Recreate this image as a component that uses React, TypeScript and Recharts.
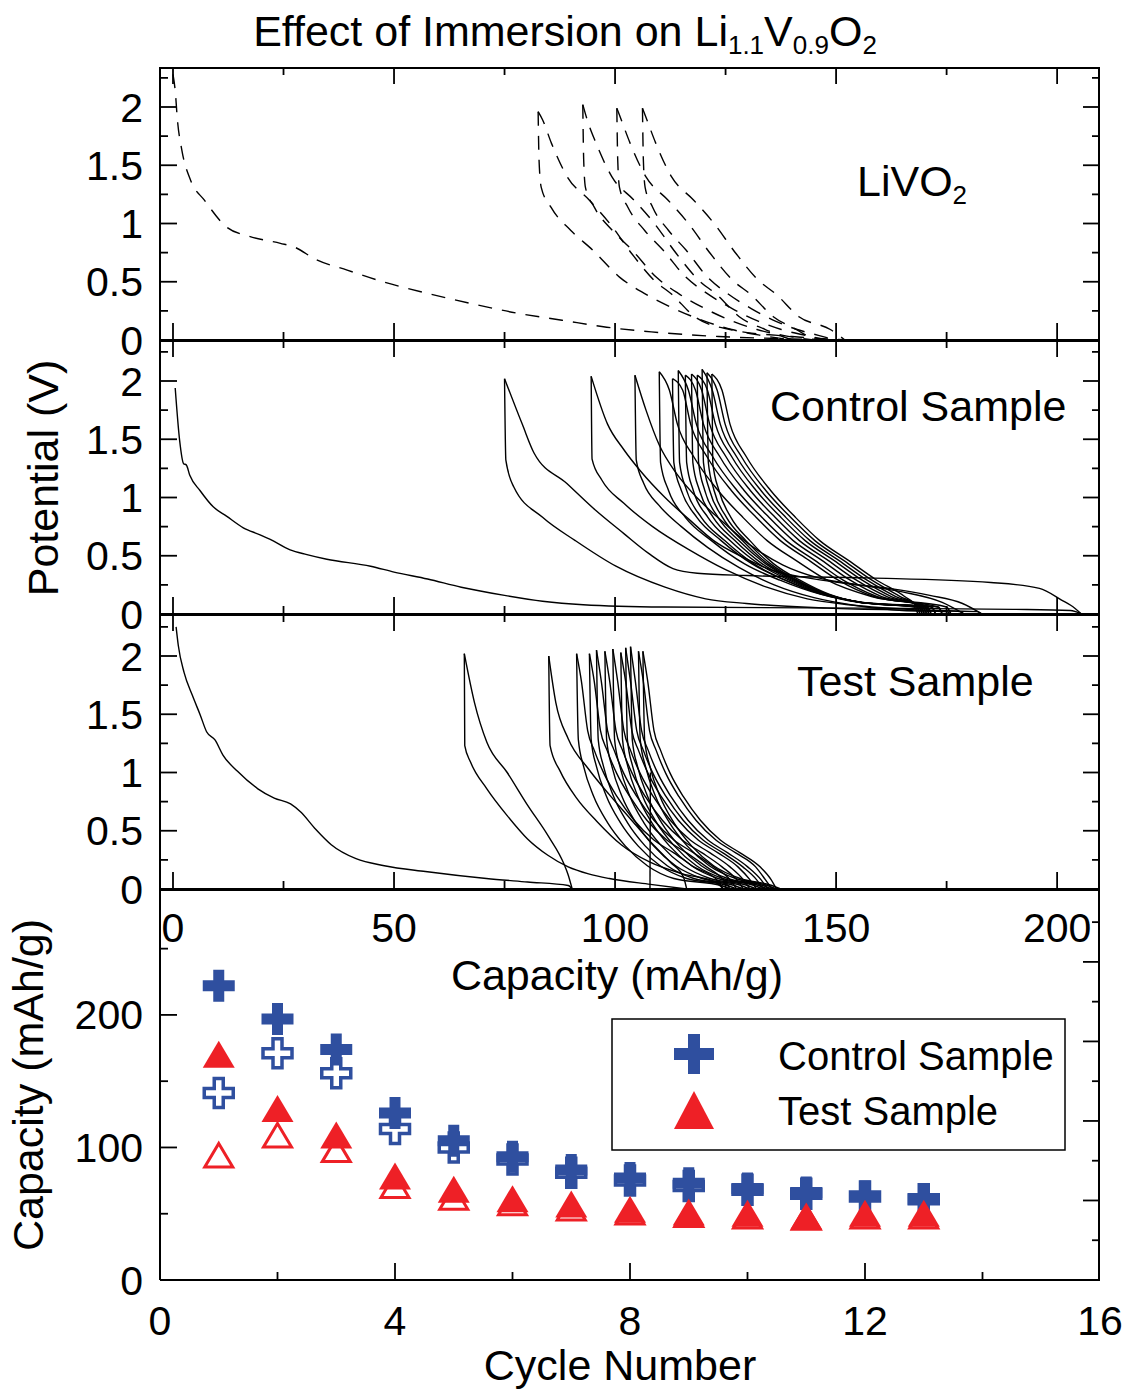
import React from 'react';
import { ComposedChart, Line, XAxis, YAxis, Scatter } from 'recharts';

const FONT = '"Liberation Sans", Arial, Helvetica, sans-serif';
const BLUE = '#2f4f9f';
const RED = '#ee2026';

// shared capacity axis of the three potential panels
const capDomain = [-2.94, 209.7];
const capLabels = [0, 50, 100, 150, 200];
const capMajor = [0, 50, 100, 150, 200];
const capMinor = [25, 75, 125, 175];
const potLabels = [0, 0.5, 1, 1.5, 2];
const potMajor = [0.5, 1, 1.5, 2];
const potMinor = [0.25, 0.75, 1.25, 1.75, 2.25];

// cycling panel axes
const cycleDomain = [0, 16];
const cycleLabels = [0, 4, 8, 12, 16];
const cycleMajor = [4, 8, 12];
const cycleMinor = [2, 6, 10, 14];
const qDomain = [0, 295];
const qLabels = [0, 100, 200];
const qMajor = [100, 200];
const qMinor = [50, 150, 250];
const qRightMajor = [60, 120, 180, 240];
const qRightMinor = [30, 90, 150, 210, 270];

// ---- LiVO2 (dashed) ----
const livo2First = [[0,2.28],[0.5,2.14],[1,1.89],[2,1.63],[4,1.37],[7.1,1.2],[12.1,0.97],[17.2,0.89],[24.3,0.83],[27.3,0.8],[32.4,0.69],[39.4,0.6],[47.5,0.5],[57.6,0.4],[67.8,0.31],[77.9,0.23],[88,0.17],[98.1,0.11],[108.2,0.07],[123.4,0.03],[140,0.01],[153,0]];
const livo2Down = [
  [[82.6,1.96],[82.8,1.55],[83.3,1.31],[85.5,1.14],[90,0.94],[95,0.77],[101,0.54],[106.6,0.4],[113.3,0.27],[120.4,0.16],[126.4,0.09],[133,0.04],[140,0]],
  [[92.7,2.02],[92.9,1.55],[93.3,1.31],[95.3,1.14],[99.4,0.94],[103.9,0.77],[109.3,0.54],[114.3,0.4],[120.3,0.27],[126.7,0.16],[132.1,0.09],[138,0.04],[145,0]],
  [[100.4,1.99],[100.6,1.55],[101,1.31],[102.9,1.14],[106.7,0.94],[110.9,0.77],[116,0.54],[120.8,0.4],[126.5,0.27],[132.5,0.16],[137.6,0.09],[143,0.04],[148,0]],
  [[106.2,1.99],[106.4,1.55],[106.8,1.31],[108.5,1.14],[112.1,0.94],[116.1,0.77],[120.9,0.54],[125.4,0.4],[130.8,0.27],[136.4,0.16],[141.2,0.09],[146,0.04],[150,0]],
];
const livo2Charge = [
  [[82.6,1.96],[83.6,1.89],[85.6,1.69],[89.2,1.4],[94.2,1.2],[98.8,1.0],[103.8,0.74],[108.9,0.51],[112.9,0.39],[118,0.2],[126,0.09],[140,0.03],[153,0]],
  [[92.7,2.02],[93.7,1.89],[95.7,1.69],[99.3,1.4],[104.3,1.2],[108.9,1.0],[113.9,0.74],[119,0.51],[123,0.39],[128.1,0.2],[134,0.09],[140,0]],
  [[100.4,1.99],[101.4,1.89],[103.4,1.69],[107,1.4],[112,1.2],[116.6,1.0],[121.6,0.74],[126.7,0.51],[130.7,0.39],[135.8,0.2],[141,0.09],[145,0]],
  [[106.2,1.99],[107.2,1.89],[109.2,1.69],[112.8,1.4],[117.8,1.2],[122.4,1.0],[127.4,0.74],[132.5,0.51],[136.5,0.39],[141.6,0.2],[148.7,0.09],[152,0]],
];

// ---- Control sample ----
const controlFirst = [[0.5,1.94],[1.5,1.49],[2.4,1.29],[3,1.28],[3.8,1.19],[6.1,1.06],[9.1,0.92],[12.1,0.84],[15.9,0.74],[19.7,0.68],[22,0.64],[26.5,0.55],[30.3,0.51],[34.8,0.47],[44.7,0.41],[50,0.36],[57.6,0.3],[65.2,0.23],[75,0.16],[83.6,0.11],[92.8,0.08],[111,0.06],[157,0.05],[190,0.04],[203,0.03],[205.5,0]];
const controlDown = [
  [[75,2.02],[75.3,1.32],[77.1,1.09],[83.6,0.83],[91,0.63],[100.2,0.41],[111.3,0.23],[120.5,0.13],[129.7,0.09],[148,0.05],[170,0.03],[182,0.02],[183,0]],
  [[94.6,2.04],[94.8,1.33],[97,1.15],[102,0.95],[108.5,0.75],[116.8,0.55],[125,0.38],[134.3,0.23],[143.5,0.13],[152.8,0.08],[166.6,0.04],[178,0.02],[179,0]],
  [[104.5,2.05],[104.8,1.32],[106.5,1.12],[110,0.93],[115,0.75],[121,0.57],[128,0.4],[136,0.25],[145,0.14],[155,0.07],[165,0.03],[175,0.02],[176,0]],
  [[110,2.08],[110.3,1.3],[112.1,1.06],[115.9,0.83],[121.8,0.63],[129.3,0.43],[137.3,0.29],[146.4,0.17],[156,0.1],[173.2,0.06],[174,0]],
  [[113,2.02],[113.3,1.3],[115,1.06],[118.5,0.83],[124,0.63],[131,0.43],[138.5,0.29],[147,0.17],[156,0.1],[171.7,0.06],[172.5,0]],
  [[114.3,2.09],[114.6,1.3],[116.2,1.06],[119.5,0.83],[124.8,0.63],[131.4,0.43],[138.5,0.29],[146.6,0.17],[155.2,0.1],[170.7,0.06],[171.5,0]],
  [[115.9,2.05],[116.2,1.3],[117.7,1.06],[121,0.83],[126,0.63],[132.5,0.43],[139.4,0.29],[147.2,0.17],[155.5,0.1],[170.2,0.06],[171,0]],
  [[117.3,2.06],[117.6,1.3],[119.1,1.06],[122.2,0.83],[127.1,0.63],[133.3,0.43],[140,0.29],[147.6,0.17],[155.6,0.1],[169.7,0.06],[170.5,0]],
  [[118.6,2.05],[118.9,1.3],[120.3,1.06],[123.3,0.83],[128,0.63],[134.1,0.43],[140.5,0.29],[147.8,0.17],[155.6,0.1],[169.2,0.06],[170,0]],
  [[119.7,2.1],[120,1.3],[121.4,1.06],[124.3,0.83],[128.8,0.63],[134.6,0.43],[140.9,0.29],[147.9,0.17],[155.4,0.1],[168.7,0.06],[169.5,0]],
  [[120.8,2.07],[121.1,1.3],[122.4,1.06],[125.2,0.83],[129.6,0.63],[135.2,0.43],[141.2,0.29],[148,0.17],[155.2,0.1],[168.2,0.06],[169,0]],
  [[121.9,2.06],[122.1,1.3],[123.5,1.06],[126.2,0.83],[130.5,0.63],[135.9,0.43],[141.8,0.29],[148.4,0.17],[155.4,0.1],[167.7,0.06],[168.5,0]],
];
const controlCharge = [
  [[75,2.02],[79,1.63],[81.7,1.38],[89.1,1.12],[95.6,0.89],[102,0.69],[107.6,0.52],[113.1,0.39],[118.6,0.35],[129.7,0.33],[157.4,0.31],[185,0.27],[196,0.22],[201,0.12],[204,0.05],[205.5,0]],
  [[94.6,2.04],[98.3,1.63],[102,1.41],[105.7,1.23],[111.3,1.0],[116.8,0.81],[122.3,0.63],[128.8,0.49],[135.2,0.38],[143.5,0.31],[152.8,0.26],[162,0.22],[171.2,0.16],[178.6,0.09],[183,0]],
  [[104.5,2.05],[107,1.75],[110,1.45],[114,1.2],[119,0.98],[125,0.77],[131,0.58],[138,0.42],[146,0.31],[155,0.25],[165,0.19],[174,0.1],[179,0]],
  [[110,2.08],[112.3,1.92],[114.1,1.63],[117.8,1.35],[123.3,1.06],[128.9,0.83],[134.4,0.63],[140.9,0.46],[148,0.29],[158,0.15],[175,0.06],[176,0]],
  [[113,2.02],[115.3,1.92],[117.1,1.63],[120.8,1.35],[126.3,1.06],[131.9,0.83],[137.4,0.63],[143.9,0.46],[150.5,0.29],[158.5,0.15],[173,0.06],[174,0]],
  [[114.3,2.09],[116.6,1.92],[118.4,1.63],[122.1,1.35],[127.6,1.06],[133.2,0.83],[138.7,0.63],[145.2,0.46],[151.6,0.29],[159.2,0.15],[171.5,0.06],[172.5,0]],
  [[115.9,2.05],[118.2,1.92],[120,1.63],[123.7,1.35],[129.2,1.06],[134.8,0.83],[140.3,0.63],[146.8,0.46],[153.2,0.29],[160.3,0.15],[170.5,0.06],[171.5,0]],
  [[117.3,2.06],[119.6,1.92],[121.4,1.63],[125.1,1.35],[130.6,1.06],[136.2,0.83],[141.7,0.63],[148.2,0.46],[154.6,0.29],[161.5,0.15],[170,0.06],[171,0]],
  [[118.6,2.05],[120.9,1.92],[122.7,1.63],[126.4,1.35],[131.9,1.06],[137.5,0.83],[143,0.63],[149.5,0.46],[155.9,0.29],[162.5,0.15],[169.5,0.06],[170.5,0]],
  [[119.7,2.1],[122,1.92],[123.8,1.63],[127.5,1.35],[133,1.06],[138.6,0.83],[144.1,0.63],[150.6,0.46],[157,0.29],[163.5,0.15],[169,0.06],[170,0]],
  [[120.8,2.07],[123.1,1.92],[124.9,1.63],[128.6,1.35],[134.1,1.06],[139.7,0.83],[145.2,0.63],[151.7,0.46],[158.1,0.29],[164.5,0.15],[168.7,0.06],[169.5,0]],
  [[121.9,2.06],[124.2,1.92],[126,1.63],[129.7,1.35],[135.2,1.06],[140.8,0.83],[146.3,0.63],[152.8,0.46],[159.2,0.29],[165.5,0.15],[168.3,0.06],[169,0]],
];

// ---- Test sample ----
const testFirst = [[0.7,2.25],[1.2,2.09],[2.5,1.86],[4.4,1.66],[6.2,1.49],[7.6,1.35],[9.5,1.28],[11.3,1.15],[14.6,1.01],[19.2,0.86],[22.9,0.78],[26.6,0.73],[28.9,0.66],[32.1,0.52],[35.8,0.38],[41.4,0.26],[47.8,0.2],[57.1,0.15],[70.9,0.09],[80.2,0.06],[89.4,0.03],[90.3,0]];
const testDown = [
  [[65.9,2.02],[66,1.23],[67.3,1.09],[71,0.86],[75.6,0.63],[80.2,0.43],[84.8,0.29],[89.4,0.19],[94,0.13],[98.7,0.09],[108,0.04],[116.2,0]],
  [[85,2.0],[85.3,1.23],[87.6,1.01],[91.3,0.78],[95.9,0.58],[101.4,0.38],[107.9,0.23],[115.3,0.13],[122.7,0.06],[124.5,0]],
  [[91.3,2.02],[91.7,1.28],[92.9,1.05],[95.1,0.8],[98.3,0.57],[102.3,0.37],[107.3,0.2],[113.3,0.09],[124,0.03],[126,0]],
  [[94.2,2.02],[94.6,1.28],[95.8,1.05],[98,0.8],[101.2,0.57],[105.2,0.37],[110.2,0.2],[116.2,0.09],[125.5,0.03],[127.5,0]],
  [[95.8,2.05],[96.2,1.28],[97.4,1.05],[99.6,0.8],[102.8,0.57],[106.8,0.37],[111.8,0.2],[117.8,0.09],[127,0.03],[129,0]],
  [[97.7,2.04],[98.1,1.28],[99.3,1.05],[101.5,0.8],[104.7,0.57],[108.7,0.37],[113.7,0.2],[119.7,0.09],[128.5,0.03],[130.5,0]],
  [[99.5,2.06],[99.9,1.28],[101.1,1.05],[103.3,0.8],[106.5,0.57],[110.5,0.37],[115.5,0.2],[121.5,0.09],[130,0.03],[132,0]],
  [[101.3,2.03],[101.7,1.28],[102.9,1.05],[105.1,0.8],[108.3,0.57],[112.3,0.37],[117.3,0.2],[123.3,0.09],[131.5,0.03],[133.5,0]],
  [[102.4,2.07],[102.8,1.28],[104,1.05],[106.2,0.8],[109.4,0.57],[113.4,0.37],[118.4,0.2],[124.4,0.09],[132.5,0.03],[134.5,0]],
  [[103.5,2.08],[103.9,1.28],[105.1,1.05],[107.3,0.8],[110.5,0.57],[114.5,0.37],[119.5,0.2],[125.5,0.09],[133.5,0.03],[135.5,0]],
  [[105.3,2.04],[105.7,1.28],[106.9,1.05],[109.1,0.8],[112.3,0.57],[116.3,0.37],[121.3,0.2],[127.3,0.09],[134.5,0.03],[136.5,0]],
  [[106.3,2.04],[106.7,1.28],[107.9,1.05],[110.1,0.8],[113.3,0.57],[117.3,0.37],[122.3,0.2],[128.3,0.09],[135.5,0.03],[137.5,0]],
];
const testCharge = [
  [[65.9,2.02],[68.2,1.6],[71,1.26],[75.6,1.0],[80.2,0.72],[84.8,0.46],[88.5,0.21],[89.4,0.12],[90.3,0]],
  [[85,2.0],[86.6,1.6],[89.4,1.29],[94,1.03],[98.7,0.81],[103.3,0.61],[107.9,0.41],[112.5,0.23],[115.5,0.1],[116.2,0]],
  [[91.3,2.02],[92.4,1.78],[93.8,1.36],[95.3,1.19],[97.5,0.99],[100.5,0.79],[104.3,0.59],[108.8,0.42],[113.3,0.31],[117.8,0.19],[123,0.08],[124.5,0]],
  [[94.2,2.02],[95.3,1.78],[96.7,1.36],[98.2,1.19],[100.4,0.99],[103.4,0.79],[107.2,0.59],[111.7,0.42],[116.2,0.31],[120.7,0.19],[124.5,0.08],[126,0]],
  [[95.8,2.05],[96.9,1.78],[98.3,1.36],[99.8,1.19],[102,0.99],[105,0.79],[108.8,0.59],[113.3,0.42],[117.8,0.31],[122.3,0.19],[126,0.08],[127.5,0]],
  [[97.7,2.04],[98.8,1.78],[100.2,1.36],[101.7,1.19],[103.9,0.99],[106.9,0.79],[110.7,0.59],[115.2,0.42],[119.7,0.31],[124.2,0.19],[127.5,0.08],[129,0]],
  [[99.5,2.06],[100.6,1.78],[102,1.36],[103.5,1.19],[105.7,0.99],[108.7,0.79],[112.5,0.59],[117,0.42],[121.5,0.31],[126,0.19],[129,0.08],[130.5,0]],
  [[101.3,2.03],[102.4,1.78],[103.8,1.36],[105.3,1.19],[107.5,0.99],[110.5,0.79],[114.3,0.59],[118.8,0.42],[123.3,0.31],[127.8,0.19],[130.5,0.08],[132,0]],
  [[102.4,2.07],[103.5,1.78],[104.9,1.36],[106.4,1.19],[108.6,0.99],[111.6,0.79],[115.4,0.59],[119.9,0.42],[124.4,0.31],[128.9,0.19],[132,0.08],[133.5,0]],
  [[103.5,2.08],[104.6,1.78],[106,1.36],[107.5,1.19],[109.7,0.99],[112.7,0.79],[116.5,0.59],[121,0.42],[125.5,0.31],[130,0.19],[133,0.08],[134.5,0]],
  [[105.3,2.04],[106.4,1.78],[107.8,1.36],[109.3,1.19],[111.5,0.99],[114.5,0.79],[118.3,0.59],[122.8,0.42],[127.3,0.31],[131.8,0.19],[134,0.08],[135.5,0]],
  [[106.3,2.04],[107.4,1.78],[108.8,1.36],[110.3,1.19],[112.5,0.99],[115.5,0.79],[119.3,0.59],[123.8,0.42],[128.3,0.31],[132.8,0.19],[135.3,0.08],[136.5,0]],
];
const testSpike = [[107.9,0],[108,1.0]];

// ---- capacity vs cycle ----
const cycles = [1, 2, 3, 4, 5, 6, 7, 8, 9, 10, 11, 12, 13];
const controlFilled = [222, 197, 174, 126, 105, 93, 83, 77, 73, 69, 66, 63, 61];
const controlOpen = [141, 171, 156, 114, 100, 91, 81, 75, 71, 68, 65, 63, 61];
const testFilled = [170, 129, 109, 78, 68, 61, 57, 53, 51, 50, 48, 50, 50];
const testOpen = [94, 109, 98, 71, 62, 58, 54, 51, 49, 48, 47, 48, 48];

const AXIS = { stroke: '#000', strokeWidth: 2 };
const TICK = { stroke: '#000', strokeWidth: 1.8 };
const LABEL = { fontSize: 41, fill: '#000', fontFamily: FONT };
const NoText = () => <g />;

const toPts = (c: number[][]) => c.map(([x, y]) => ({ x, y }));
const series = (ys: number[]) => cycles.map((x, i) => ({ x, y: ys[i] }));

type Frame = {
  xDomain: number[]; yDomain: number[];
  xLabels: number[]; xLabelMargin: number;
  xMajor: number[]; xMinor: number[];
  topMajor: number[]; topMinor: number[];
  yLabels: number[]; yMajor: number[]; yMinor: number[];
  rMajor: number[]; rMinor: number[];
};

// the label axes carry the text; the thin mirrored axes draw the inward tick marks and the frame
function frameAxes(f: Frame) {
  const anchor = [{ x: f.xDomain[0], y: f.yDomain[0] }, { x: f.xDomain[1], y: f.yDomain[0] }];
  const tickAxes = [
    { id: 'bt', orientation: 'bottom', ticks: f.xMajor, size: 16, line: false },
    { id: 'bm', orientation: 'bottom', ticks: f.xMinor, size: 8, line: false },
    { id: 'tt', orientation: 'top', ticks: f.topMajor, size: 16, line: true },
    { id: 'tm', orientation: 'top', ticks: f.topMinor, size: 8, line: false },
  ];
  return [
    <XAxis key="b" xAxisId="b" dataKey="x" type="number" domain={f.xDomain} allowDataOverflow ticks={f.xLabels} interval={0}
      tick={f.xLabels.length ? LABEL : NoText} tickLine={false} tickSize={0} tickMargin={f.xLabelMargin} height={1} axisLine={AXIS} />,
    ...tickAxes.map((a) => (
      <XAxis key={a.id} xAxisId={a.id} dataKey="x" orientation={a.orientation as any} type="number" domain={f.xDomain} allowDataOverflow
        ticks={a.ticks} interval={0} tick={NoText} tickLine={TICK} tickSize={a.size} mirror height={1} axisLine={a.line ? AXIS : false} />
    )),
    // invisible anchors so that every tick axis gets a scale
    ...tickAxes.map((a) => (
      <Line key={`anchor-${a.id}`} data={anchor} dataKey="y" xAxisId={a.id} yAxisId="l" stroke="none" dot={false}
        activeDot={false} isAnimationActive={false} legendType="none" />
    )),
    <YAxis key="l" yAxisId="l" dataKey="y" type="number" domain={f.yDomain} allowDataOverflow ticks={f.yLabels} interval={0}
      tick={LABEL} tickLine={false} tickSize={0} tickMargin={17} width={60} axisLine={AXIS} />,
    <YAxis key="lt" yAxisId="lt" type="number" domain={f.yDomain} allowDataOverflow ticks={f.yMajor} interval={0}
      tick={NoText} tickLine={TICK} tickSize={16} mirror width={1} axisLine={false} />,
    <YAxis key="lm" yAxisId="lm" type="number" domain={f.yDomain} allowDataOverflow ticks={f.yMinor} interval={0}
      tick={NoText} tickLine={TICK} tickSize={8} mirror width={1} axisLine={false} />,
    <YAxis key="rt" yAxisId="rt" orientation="right" type="number" domain={f.yDomain} allowDataOverflow ticks={f.rMajor} interval={0}
      tick={NoText} tickLine={TICK} tickSize={16} mirror width={1} axisLine={AXIS} />,
    <YAxis key="rm" yAxisId="rm" orientation="right" type="number" domain={f.yDomain} allowDataOverflow ticks={f.rMinor} interval={0}
      tick={NoText} tickLine={TICK} tickSize={8} mirror width={1} axisLine={false} />,
  ];
}

function VoltagePanel({ top, plotH, curves, dashed, capText }: { top: number; plotH: number; curves: number[][][]; dashed?: boolean; capText?: boolean }) {
  const bottom = capText ? 70 : 30;
  const yDomain = [0, plotH / 116.5];
  return (
    <ComposedChart width={1128} height={30 + plotH + bottom} margin={{ top: 30, right: 28, bottom: bottom - 1, left: 100 }}
      style={{ position: 'absolute', left: 0, top: top - 30 }}>
      {frameAxes({
        xDomain: capDomain, yDomain,
        xLabels: capText ? capLabels : [], xLabelMargin: 24,
        xMajor: capMajor, xMinor: capMinor, topMajor: capMajor, topMinor: capMinor,
        yLabels: potLabels, yMajor: potMajor, yMinor: potMinor, rMajor: potMajor, rMinor: potMinor,
      })}
      {curves.map((c, i) => (
        <Line key={i} data={toPts(c)} dataKey="y" xAxisId="b" yAxisId="l" type="monotone" dot={false}
          stroke="#000" strokeWidth={1.4} strokeDasharray={dashed ? '14 10' : undefined} isAnimationActive={false} />
      ))}
    </ComposedChart>
  );
}

function plusPath(cx: number, cy: number, h: number, t: number) {
  return `M${cx - t},${cy - h}H${cx + t}V${cy - t}H${cx + h}V${cy + t}H${cx + t}V${cy + h}H${cx - t}V${cy + t}H${cx - h}V${cy - t}H${cx - t}Z`;
}
const PlusFilled = (p: any) => <path d={plusPath(p.cx, p.cy, 16, 5.5)} fill={BLUE} />;
const PlusOpen = (p: any) => <path d={plusPath(p.cx, p.cy, 14.5, 4.5)} fill="#fff" stroke={BLUE} strokeWidth={3.5} />;
const TriFilled = (p: any) => <polygon points={`${p.cx},${p.cy - 14} ${p.cx + 16},${p.cy + 13} ${p.cx - 16},${p.cy + 13}`} fill={RED} />;
const TriOpen = (p: any) => <polygon points={`${p.cx},${p.cy - 12} ${p.cx + 14},${p.cy + 11.5} ${p.cx - 14},${p.cy + 11.5}`} fill="#fff" stroke={RED} strokeWidth={3} />;

function CyclePanel() {
  return (
    <ComposedChart width={1128} height={511} margin={{ top: 30, right: 28, bottom: 89, left: 100 }}
      style={{ position: 'absolute', left: 0, top: 859 }}>
      {frameAxes({
        xDomain: cycleDomain, yDomain: qDomain,
        xLabels: cycleLabels, xLabelMargin: 26,
        xMajor: cycleMajor, xMinor: cycleMinor, topMajor: [], topMinor: [],
        yLabels: qLabels, yMajor: qMajor, yMinor: qMinor, rMajor: qRightMajor, rMinor: qRightMinor,
      })}
      <Scatter data={series(controlOpen)} dataKey="y" xAxisId="b" yAxisId="l" shape={PlusOpen} isAnimationActive={false} />
      <Scatter data={series(testOpen)} dataKey="y" xAxisId="b" yAxisId="l" shape={TriOpen} isAnimationActive={false} />
      <Scatter data={series(controlFilled)} dataKey="y" xAxisId="b" yAxisId="l" shape={PlusFilled} isAnimationActive={false} />
      <Scatter data={series(testFilled)} dataKey="y" xAxisId="b" yAxisId="l" shape={TriFilled} isAnimationActive={false} />
    </ComposedChart>
  );
}

export default function App() {
  return (
    <div style={{ position: 'absolute', left: 0, top: 0, width: 1128, height: 1389, overflow: 'hidden', background: '#fff', fontFamily: FONT }}>
      <VoltagePanel top={67} plotH={273} curves={[livo2First, ...livo2Down, ...livo2Charge]} dashed />
      <VoltagePanel top={340} plotH={274} curves={[controlFirst, ...controlDown, ...controlCharge]} />
      <VoltagePanel top={614} plotH={275} curves={[testFirst, ...testDown, ...testCharge, testSpike]} capText />
      <CyclePanel />
      <svg width={1128} height={1389} style={{ position: 'absolute', left: 0, top: 0, pointerEvents: 'none' }} fontFamily={FONT}>
        <text x={565} y={46} textAnchor="middle" fontSize={43}>
          Effect of Immersion on Li<tspan fontSize={26} dy={8}>1.1</tspan><tspan dy={-8}>V</tspan>
          <tspan fontSize={26} dy={8}>0.9</tspan><tspan dy={-8}>O</tspan><tspan fontSize={26} dy={8}>2</tspan>
        </text>
        <text x={857} y={196} fontSize={43}>LiVO<tspan fontSize={26} dy={8}>2</tspan></text>
        <text x={770} y={421} fontSize={43}>Control Sample</text>
        <text x={797} y={696} fontSize={43}>Test Sample</text>
        <text x={617} y={990} textAnchor="middle" fontSize={43}>Capacity (mAh/g)</text>
        <text x={620} y={1380} textAnchor="middle" fontSize={43}>Cycle Number</text>
        <text transform="translate(58,478) rotate(-90)" textAnchor="middle" fontSize={43}>Potential (V)</text>
        <text transform="translate(43,1085) rotate(-90)" textAnchor="middle" fontSize={43}>Capacity (mAh/g)</text>
        <rect x={612} y={1019} width={453} height={131} fill="#fff" stroke="#000" strokeWidth={1.5} />
        <path d={plusPath(694, 1054, 20, 6)} fill={BLUE} />
        <polygon points="694,1091 714,1129 674,1129" fill={RED} />
        <text x={778} y={1070} fontSize={40}>Control Sample</text>
        <text x={778} y={1125} fontSize={40}>Test Sample</text>
      </svg>
    </div>
  );
}
